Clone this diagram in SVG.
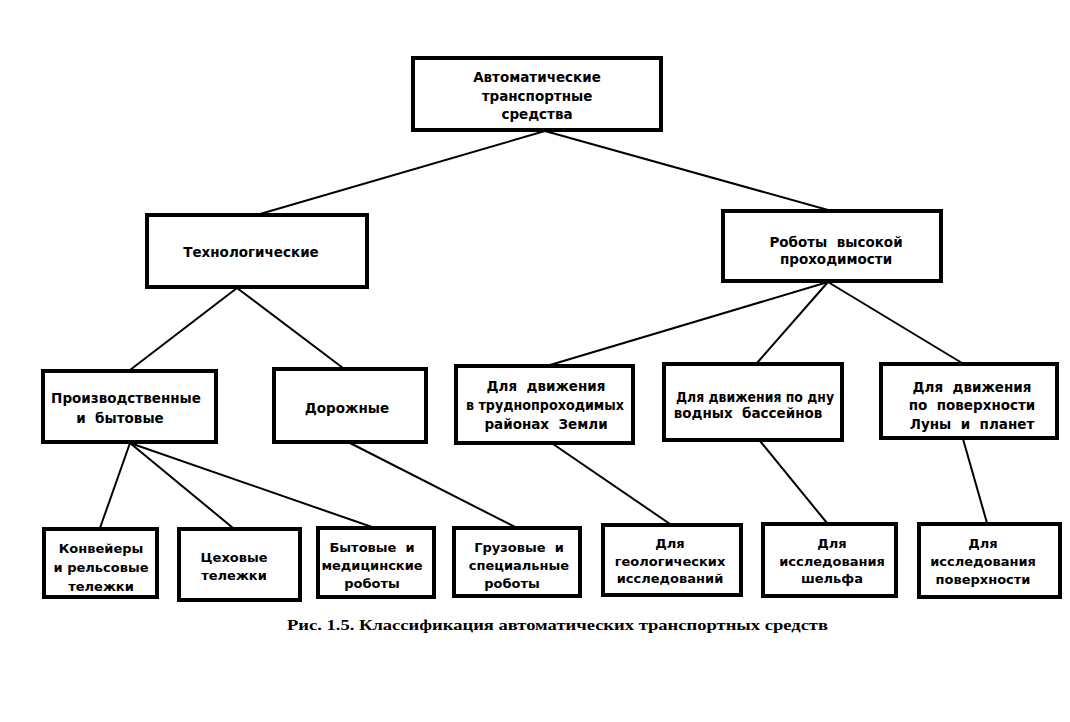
<svg xmlns="http://www.w3.org/2000/svg" width="1070" height="722" viewBox="0 0 1070 722">
<style>
.box{fill:#fff;stroke:#000;stroke-width:4}
.t{font-family:"DejaVu Sans","Liberation Sans",sans-serif;font-weight:bold;font-size:13.5px;fill:#000;text-anchor:middle;white-space:pre}
.s{font-size:13px}
.c{stroke:#000;stroke-width:2;fill:none}
.cap{font-family:"Liberation Serif",serif;font-weight:bold;font-size:15px;fill:#000}
</style>
<rect width="1070" height="722" fill="#fff"/>
<g id="connectors">
<line class="c" x1="545" y1="131" x2="260" y2="214"/>
<line class="c" x1="545" y1="131" x2="828" y2="210"/>
<line class="c" x1="237" y1="288" x2="130" y2="370"/>
<line class="c" x1="237" y1="288" x2="343" y2="368"/>
<line class="c" x1="828" y1="282" x2="550" y2="365"/>
<line class="c" x1="828" y1="282" x2="757" y2="363"/>
<line class="c" x1="828" y1="282" x2="962" y2="363"/>
<line class="c" x1="130" y1="443" x2="100" y2="528"/>
<line class="c" x1="130" y1="443" x2="233" y2="528"/>
<line class="c" x1="130" y1="443" x2="372" y2="527"/>
<line class="c" x1="350" y1="443" x2="515" y2="527"/>
<line class="c" x1="553" y1="444" x2="670" y2="524"/>
<line class="c" x1="760" y1="441" x2="827" y2="523"/>
<line class="c" x1="963" y1="439" x2="987" y2="523"/>
</g>
<g id="n0"><rect class="box" x="413" y="58" width="248" height="72"/>
<text class="t" x="537" y="82">Автоматические</text><text class="t" x="537" y="101">транспортные</text><text class="t" x="537" y="119">средства</text></g>
<g id="n1"><rect class="box" x="147" y="215" width="220" height="72"/>
<text class="t" x="251" y="257">Технологические</text></g>
<g id="n2"><rect class="box" x="723" y="211" width="218" height="70"/>
<text class="t" x="836" y="247" xml:space="preserve">Роботы  высокой</text><text class="t" x="836" y="264">проходимости</text></g>
<g id="n3"><rect class="box" x="43" y="371" width="173" height="71"/>
<text class="t" x="126" y="403">Производственные</text><text class="t" x="120" y="423" xml:space="preserve">и  бытовые</text></g>
<g id="n4"><rect class="box" x="274" y="369" width="152" height="73"/>
<text class="t" x="347" y="413">Дорожные</text></g>
<g id="n5"><rect class="box" x="456" y="366" width="177" height="77"/>
<text class="t" x="546" y="391" xml:space="preserve">Для  движения</text><text class="t" x="545" y="410" textLength="158" lengthAdjust="spacingAndGlyphs">в труднопроходимых</text><text class="t" x="546" y="429" xml:space="preserve">районах  Земли</text></g>
<g id="n6"><rect class="box" x="664" y="364" width="178" height="76"/>
<text class="t" x="755" y="402" textLength="158" lengthAdjust="spacingAndGlyphs">Для движения по дну</text><text class="t" x="748" y="418" xml:space="preserve">водных  бассейнов</text></g>
<g id="n7"><rect class="box" x="881" y="364" width="176" height="74"/>
<text class="t" x="972" y="392" xml:space="preserve">Для  движения</text><text class="t" x="972" y="410" xml:space="preserve">по  поверхности</text><text class="t" x="972" y="429" xml:space="preserve">Луны  и  планет</text></g>
<g id="n8"><rect class="box" x="44" y="529" width="113" height="68"/>
<text class="t s" x="101" y="553">Конвейеры</text><text class="t s" x="101" y="572">и рельсовые</text><text class="t s" x="101" y="591">тележки</text></g>
<g id="n9"><rect class="box" x="179" y="529" width="121" height="71"/>
<text class="t s" x="234" y="562">Цеховые</text><text class="t s" x="234" y="580">тележки</text></g>
<g id="n10"><rect class="box" x="318" y="528" width="116" height="69"/>
<text class="t s" x="372" y="552" xml:space="preserve">Бытовые  и</text><text class="t s" x="372" y="570">медицинские</text><text class="t s" x="372" y="588">роботы</text></g>
<g id="n11"><rect class="box" x="454" y="528" width="126" height="68"/>
<text class="t s" x="519" y="552" xml:space="preserve">Грузовые  и</text><text class="t s" x="519" y="570">специальные</text><text class="t s" x="512" y="588">роботы</text></g>
<g id="n12"><rect class="box" x="603" y="525" width="138" height="70"/>
<text class="t s" x="670" y="548">Для</text><text class="t s" x="670" y="566">геологических</text><text class="t s" x="670" y="583">исследований</text></g>
<g id="n13"><rect class="box" x="763" y="524" width="133" height="72"/>
<text class="t s" x="832" y="548">Для</text><text class="t s" x="832" y="566">исследования</text><text class="t s" x="832" y="583">шельфа</text></g>
<g id="n14"><rect class="box" x="919" y="524" width="141" height="73"/>
<text class="t s" x="983" y="548">Для</text><text class="t s" x="983" y="566">исследования</text><text class="t s" x="983" y="584">поверхности</text></g>
<text class="cap" x="287" y="630" textLength="541" lengthAdjust="spacingAndGlyphs">Рис. 1.5. Классификация автоматических транспортных средств</text>
</svg>
